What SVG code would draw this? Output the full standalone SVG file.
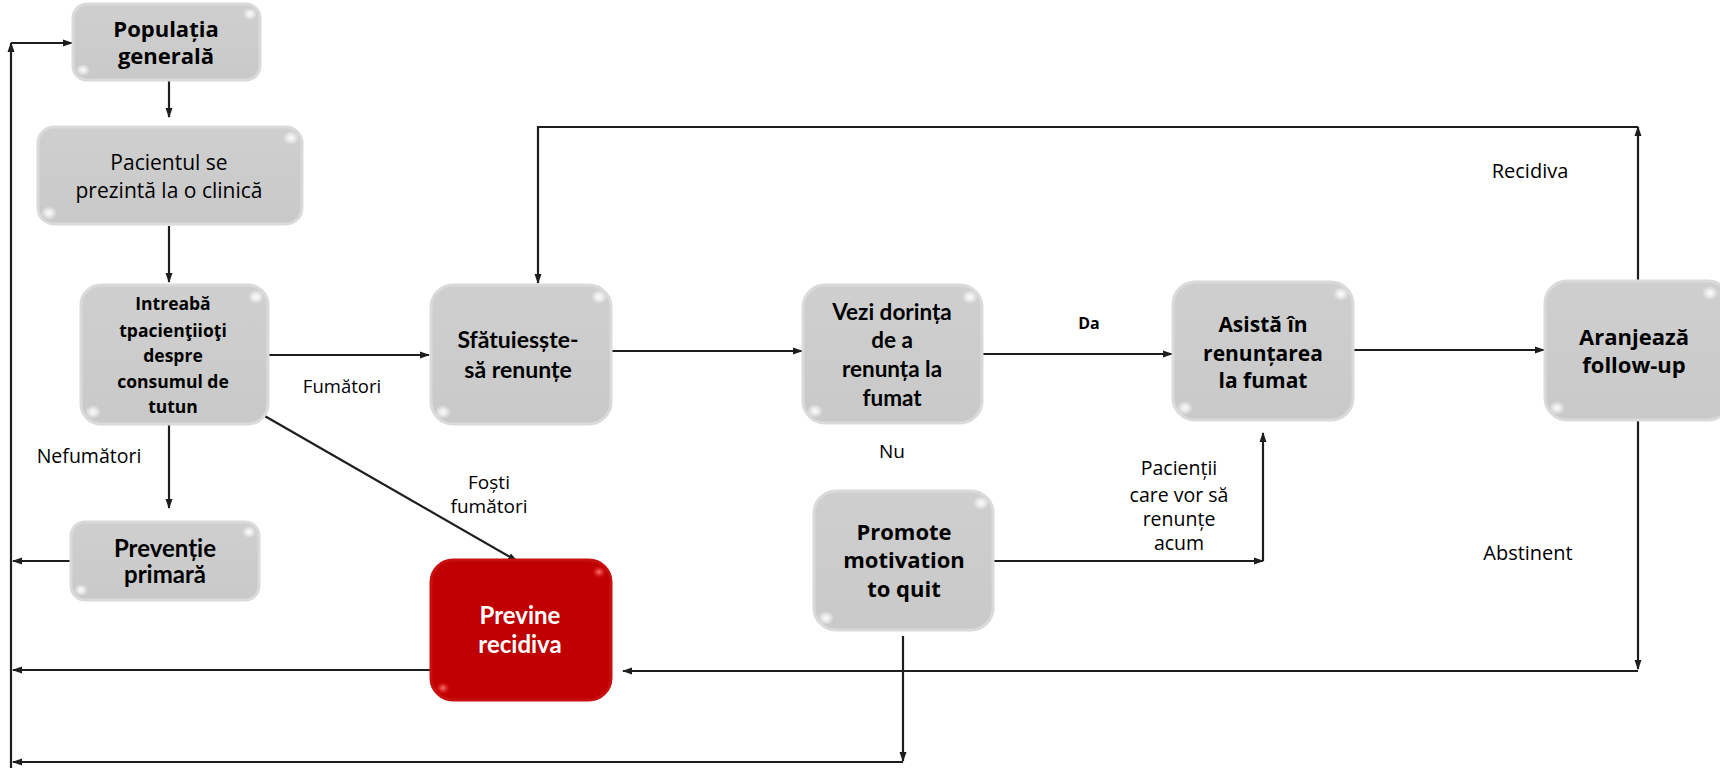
<svg xmlns="http://www.w3.org/2000/svg" width="1720" height="769" viewBox="0 0 1720 769">
<style>
.box{fill:url(#gfill);stroke:#dadada;stroke-width:3}
.red{fill:#c00000;stroke:#c81010;stroke-width:3}
.hl{fill:url(#hlw)}
.hr{fill:url(#hlr)}
.ln{fill:none;stroke:#1e1e1e;stroke-width:2.2}
.ar{marker-end:url(#ah)}
.t{font-family:"Open Sans","DejaVu Sans",sans-serif;fill:#000;text-anchor:middle}
.b{font-weight:700}
.c{font-family:Lato,"Open Sans",sans-serif;font-weight:700;fill:#000;text-anchor:middle}
.w{fill:#fff}
</style>
<defs>
<linearGradient id="gfill" x1="0" y1="0" x2="0" y2="1">
<stop offset="0" stop-color="#cfcfcf"/>
<stop offset="1" stop-color="#c9c9c9"/>
</linearGradient>
<radialGradient id="hlw">
<stop offset="0" stop-color="#ffffff" stop-opacity="0.95"/>
<stop offset="0.45" stop-color="#ffffff" stop-opacity="0.6"/>
<stop offset="1" stop-color="#ffffff" stop-opacity="0"/>
</radialGradient>
<radialGradient id="hlr">
<stop offset="0" stop-color="#ff7a7a" stop-opacity="0.95"/>
<stop offset="0.45" stop-color="#ee4040" stop-opacity="0.6"/>
<stop offset="1" stop-color="#c00000" stop-opacity="0"/>
</radialGradient>
<marker id="ah" markerUnits="userSpaceOnUse" markerWidth="10" markerHeight="8" refX="9" refY="4" orient="auto">
<path d="M0,0.5 L10,4 L0,7.5 z" fill="#1e1e1e"/>
</marker>
</defs>

<g id="connectors">
<path class="ln ar" d="M169,81 L169,117"/>
<path class="ln ar" d="M169,226 L169,282"/>
<path class="ln ar" d="M268,355 L429,355"/>
<path class="ln ar" d="M169,424 L169,508"/>
<path class="ln ar" d="M70,561 L13,561"/>
<path class="ln ar" d="M263,415 L517,561"/>
<path class="ln ar" d="M611,351 L802,351"/>
<path class="ln ar" d="M982,354 L1172,354"/>
<path class="ln ar" d="M1353,350 L1544,350"/>
<path class="ln ar" d="M1638,281 L1638,127"/>
<path class="ln ar" d="M1638,127 L538,127 L538,283"/>
<path class="ln ar" d="M1638,420 L1638,669"/>
<path class="ln ar" d="M1638,671 L623,671"/>
<path class="ln ar" d="M431,670 L13,670"/>
<path class="ln ar" d="M993,561 L1263,561"/>
<path class="ln ar" d="M1263,561 L1263,433"/>
<path class="ln ar" d="M903,636 L903,761"/>
<path class="ln ar" d="M903,762 L13,762"/>
<path class="ln ar" d="M11,768 L11,43"/>
<path class="ln ar" d="M11,43 L72,43"/>
</g>

<g id="n-populatia">
<rect class="box" x="73" y="4" width="187" height="76" rx="14"/>
<ellipse class="hl" cx="250" cy="14" rx="7" ry="6"/>
<ellipse class="hl" cx="83" cy="70" rx="7" ry="6"/>
<text class="t b" font-size="22" x="166" y="37">Populația</text>
<text class="t b" font-size="22" x="166" y="64">generală</text>
</g>

<g id="n-pacientul">
<rect class="box" x="38" y="127" width="264" height="97" rx="16"/>
<ellipse class="hl" cx="291" cy="138" rx="8" ry="7"/>
<ellipse class="hl" cx="49" cy="213" rx="8" ry="7"/>
<text class="t" font-size="21" x="169" y="170">Pacientul se</text>
<text class="t" font-size="21" x="169" y="198">prezintă la o clinică</text>
</g>

<g id="n-intreaba">
<rect class="box" x="81" y="285" width="187" height="139" rx="20"/>
<ellipse class="hl" cx="256" cy="297" rx="8" ry="7"/>
<ellipse class="hl" cx="93" cy="412" rx="8" ry="7"/>
<text class="t b" font-size="17.5" x="173" y="310">Intreabă</text>
<text class="t b" font-size="17.5" x="173" y="337">tpacienţiioţi</text>
<text class="t b" font-size="17.5" x="173" y="362">despre</text>
<text class="t b" font-size="17.5" x="173" y="388">consumul de</text>
<text class="t b" font-size="17.5" x="173" y="413">tutun</text>
</g>

<g id="n-preventie">
<rect class="box" x="71" y="522" width="188" height="78" rx="14"/>
<ellipse class="hl" cx="249" cy="532" rx="7" ry="6"/>
<ellipse class="hl" cx="81" cy="590" rx="7" ry="6"/>
<text class="c" font-size="24" x="165" y="557">Prevenție</text>
<text class="c" font-size="24" x="165" y="583">primară</text>
</g>

<g id="n-sfatuieste">
<rect class="box" x="431" y="285" width="180" height="139" rx="22"/>
<ellipse class="hl" cx="599" cy="297" rx="8" ry="7"/>
<ellipse class="hl" cx="443" cy="412" rx="8" ry="7"/>
<text class="c" font-size="23" x="518" y="348">Sfătuiesște-</text>
<text class="c" font-size="23" x="518" y="378">să renunțe</text>
</g>

<g id="n-vezi">
<rect class="box" x="803" y="285" width="179" height="138" rx="22"/>
<ellipse class="hl" cx="970" cy="297" rx="8" ry="7"/>
<ellipse class="hl" cx="815" cy="411" rx="8" ry="7"/>
<text class="c" font-size="22.5" x="892" y="320">Vezi dorința</text>
<text class="c" font-size="22.5" x="892" y="348">de a</text>
<text class="c" font-size="22.5" x="892" y="377">renunța la</text>
<text class="c" font-size="22.5" x="892" y="406">fumat</text>
</g>

<g id="n-asista">
<rect class="box" x="1173" y="282" width="180" height="138" rx="22"/>
<ellipse class="hl" cx="1341" cy="294" rx="8" ry="7"/>
<ellipse class="hl" cx="1185" cy="408" rx="8" ry="7"/>
<text class="t b" font-size="21" x="1263" y="332">Asistă în</text>
<text class="t b" font-size="21" x="1263" y="361">renunțarea</text>
<text class="t b" font-size="21" x="1263" y="388">la fumat</text>
</g>

<g id="n-aranjeaza">
<rect class="box" x="1545" y="281" width="185" height="139" rx="22"/>
<ellipse class="hl" cx="1710" cy="293" rx="8" ry="7"/>
<ellipse class="hl" cx="1557" cy="408" rx="8" ry="7"/>
<text class="t b" font-size="22" x="1634" y="345">Aranjează</text>
<text class="t b" font-size="22" x="1634" y="373">follow-up</text>
</g>

<g id="n-promote">
<rect class="box" x="814" y="491" width="179" height="139" rx="22"/>
<ellipse class="hl" cx="981" cy="503" rx="8" ry="7"/>
<ellipse class="hl" cx="826" cy="618" rx="8" ry="7"/>
<text class="t b" font-size="22" x="904" y="540">Promote</text>
<text class="t b" font-size="22" x="904" y="568">motivation</text>
<text class="t b" font-size="22" x="904" y="597">to quit</text>
</g>

<g id="n-previne">
<rect class="red" x="431" y="560" width="180" height="140" rx="22"/>
<ellipse class="hr" cx="599" cy="572" rx="8" ry="7"/>
<ellipse class="hr" cx="443" cy="688" rx="8" ry="7"/>
<text class="c w" font-size="24" x="520" y="624">Previne</text>
<text class="c w" font-size="24" x="520" y="653">recidiva</text>
</g>

<g id="labels">
<text class="t" font-size="18.5" x="342" y="393">Fumători</text>
<text class="t" font-size="19.5" x="89" y="463">Nefumători</text>
<text class="t" font-size="19" x="489" y="489">Foști</text>
<text class="t" font-size="19" x="489" y="513">fumători</text>
<text class="t b" font-size="16" x="1089" y="329">Da</text>
<text class="t" font-size="19" x="892" y="458">Nu</text>
<text class="t" font-size="19.5" x="1179" y="475">Pacienții</text>
<text class="t" font-size="19.5" x="1179" y="502">care vor să</text>
<text class="t" font-size="19.5" x="1179" y="526">renunțe</text>
<text class="t" font-size="19.5" x="1179" y="550">acum</text>
<text class="t" font-size="20" x="1530" y="178">Recidiva</text>
<text class="t" font-size="20" x="1528" y="560">Abstinent</text>
</g>
</svg>
